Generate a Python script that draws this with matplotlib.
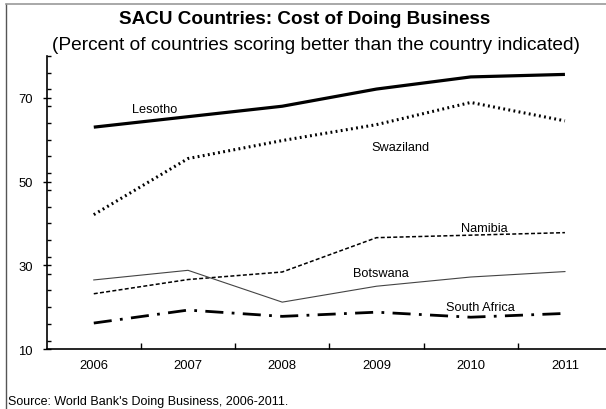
import matplotlib
matplotlib.use('agg')
import matplotlib.pyplot as plt
import matplotlib.ticker as tick
from matplotlib.lines import Line2D

plt.rcParams['font.family'] = ['Liberation Sans', 'DejaVu Sans']

years = ['2006', '2007', '2008', '2009', '2010', '2011']
lesotho = [63.0, 65.5, 68.0, 72.1, 75.0, 75.6]
swaziland = [42.1, 55.5, 59.8, 63.6, 68.9, 64.5]
namibia = [23.2, 26.6, 28.4, 36.6, 37.2, 37.8]
botswana = [26.5, 28.8, 21.2, 25.0, 27.2, 28.5]
south_africa = [16.2, 19.3, 17.8, 18.8, 17.6, 18.5]

fig = plt.figure(figsize=(6.06, 4.10), dpi=100)
ax = fig.add_axes([0.077, 0.1463, 0.933, 0.7147])

x = range(len(years))
ax.plot(x, lesotho, color='black', lw=2.3, solid_capstyle='butt')
ax.plot(x, swaziland, color='black', lw=2.2, linestyle=(0, (0.6, 1.1)),
        dash_capstyle='butt')
ax.plot(x, namibia, color='black', lw=1.1, linestyle=(0, (2.6, 1.5)))
ax.plot(x, botswana, color='#444444', lw=0.8)
ax.plot(x, south_africa, color='black', lw=2.0,
        linestyle=(0, (6.5, 3.0, 1.0, 3.0)), dash_capstyle='butt')

# line labels
lbl = dict(fontsize=9.2, ha='center', va='center')
ax.text(0.65, 67.3, 'Lesotho', **lbl)
ax.text(3.25, 58.2, 'Swaziland', **lbl)
ax.text(4.14, 38.9, 'Namibia', **lbl)
ax.text(3.05, 28.1, 'Botswana', **lbl)
ax.text(4.1, 20.0, 'South Africa', **lbl)

ax.set_xlim(-0.5, 5.5)
ax.set_ylim(10, 80)

for s in ['top', 'right']:
    ax.spines[s].set_visible(False)
ax.spines['left'].set_linewidth(1.2)
ax.spines['bottom'].set_linewidth(1.2)

# category boundaries as tick marks, year labels at the centres
ax.xaxis.set_major_locator(tick.FixedLocator([0.5, 1.5, 2.5, 3.5, 4.5]))
ax.xaxis.set_major_formatter(tick.NullFormatter())
ax.xaxis.set_minor_locator(tick.FixedLocator(list(x)))
ax.xaxis.set_minor_formatter(tick.FixedFormatter(years))
ax.tick_params(axis='x', which='minor', length=0, pad=7, labelsize=9.4)
ax.tick_params(axis='x', which='major', direction='in', length=4, width=1)

ax.yaxis.set_major_locator(tick.FixedLocator([10, 30, 50, 70]))
ax.yaxis.set_minor_locator(tick.MultipleLocator(4))
ax.tick_params(axis='y', which='major', direction='inout', length=6, width=1,
               labelsize=9.4, pad=7)
ax.tick_params(axis='y', which='minor', direction='in', length=3, width=1)

fig.text(0.502, 0.952, 'SACU Countries: Cost of Doing Business',
         ha='center', va='center', fontsize=13.6, fontweight='bold')
fig.text(0.521, 0.888,
         '(Percent of countries scoring better than the country indicated)',
         ha='center', va='center', fontsize=13.8)
fig.text(0.014, 0.02, "Source: World Bank's Doing Business, 2006-2011.",
         ha='left', va='center', fontsize=9.0)

# frame lines along the left and top edges
fig.add_artist(Line2D([0.0107, 0.0107], [0.0, 0.988], color='#555555', lw=1.0))
fig.add_artist(Line2D([0.0107, 1.0], [0.988, 0.988], color='#999999', lw=1.2))

fig.savefig('out.png', dpi=100)
